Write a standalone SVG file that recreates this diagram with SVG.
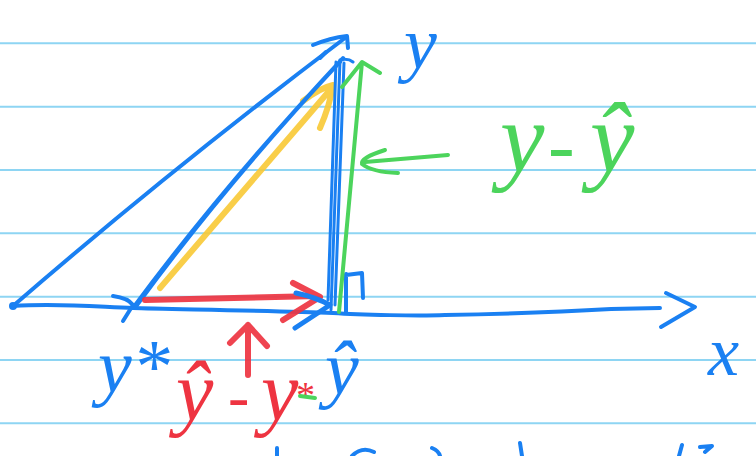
<svg xmlns="http://www.w3.org/2000/svg" width="756" height="456" viewBox="0 0 756 456">
<style>
.rule{stroke:#8ed5f3;stroke-width:2}
.b{fill:none;stroke:#1a80f2;stroke-width:4;stroke-linecap:round;stroke-linejoin:round}
.g{fill:none;stroke:#4cd45c;stroke-width:4;stroke-linecap:round;stroke-linejoin:round}
.yl{fill:none;stroke:#f8c935;stroke-width:6;stroke-linecap:round;stroke-linejoin:round;opacity:.9}
.r{fill:none;stroke:#ee3441;stroke-width:6;stroke-linecap:round;stroke-linejoin:round;opacity:.92}
.t{font-family:"Liberation Serif","DejaVu Serif",serif;font-style:italic}
</style>
<rect width="756" height="456" fill="#ffffff"/>
<g id="paper">
<line class="rule" x1="0" y1="43.3" x2="756" y2="43.3"/>
<line class="rule" x1="0" y1="106.7" x2="756" y2="106.7"/>
<line class="rule" x1="0" y1="170" x2="756" y2="170"/>
<line class="rule" x1="0" y1="233.3" x2="756" y2="233.3"/>
<line class="rule" x1="0" y1="296.7" x2="756" y2="296.7"/>
<line class="rule" x1="0" y1="360" x2="756" y2="360"/>
<line class="rule" x1="0" y1="423.3" x2="756" y2="423.3"/>
</g>
<g id="connectors">
<path class="yl" d="M160,288 L330,90 M303,101 Q320,88 333,85 Q330,105 320,128"/>
<path class="b" d="M13,306 C60,303 100,307 133,308 S280,311 333,313 C360,315 420,316 445,315 C500,314 560,312 611,309 L660,308"/>
<path class="b" d="M666,293 L695,307 L661,327"/>
<circle cx="13" cy="306" r="4" fill="#1a80f2"/>
<path class="b" d="M13,306 Q170,170 345,38"/>
<path class="b" d="M313,45 Q330,38 347,36 L348,48 M320,58 L326,52"/>
<path class="b" d="M133,308 Q220,190 343,58 M137,305 Q225,185 340,62"/>
<path class="b" style="stroke-width:3" d="M340,60 L331,310 M336,62 L328,300 M344,63 L335,305 M340,60 Q348,58 353,62"/>
<path class="b" d="M346,274 L346,313 M346,275 L362,273 L363,298"/>
<path class="b" d="M113,296 Q128,298 133,305 L123,321"/>
<path class="g" d="M339,312 L362,62 M342,87 L362,62 L380,73"/>
<path class="g" d="M448,155 L365,162 M385,150 Q360,158 362,164 Q372,172 398,173"/>
<path class="r" d="M145,300 Q230,298 318,296 M293,283 L320,297 L283,320"/>
<path class="b" style="stroke-width:5" d="M296,293 Q315,297 330,305 L295,328"/>
<path class="r" d="M248,375 L248,325 M230,343 L248,325 L267,346"/>
</g>
<g id="label-y">
<text class="t" x="404" y="68" font-size="74" fill="#1a80f2">y</text>
</g>
<g id="label-x">
<text class="t" x="708" y="375" font-size="70" fill="#1a80f2">x</text>
</g>
<g id="label-y-minus-yhat">
<text class="t" x="500" y="172" font-size="100" fill="#4cd45c">y</text>
<text class="t" x="548" y="172" font-size="80" fill="#4cd45c">-</text>
<text class="t" x="590" y="172" font-size="100" fill="#4cd45c">ŷ</text>
</g>
<g id="label-ystar">
<text class="t" x="98" y="392" font-size="76" fill="#1a80f2">y*</text>
</g>
<g id="label-yhat">
<text class="t" x="325" y="394" font-size="76" fill="#1a80f2">ŷ</text>
</g>
<g id="label-yhat-minus-ystar">
<text class="t" x="176" y="420" font-size="84" fill="#ee3441">ŷ</text>
<text class="t" x="228" y="418" font-size="64" fill="#ee3441">-</text>
<text class="t" x="261" y="420" font-size="84" fill="#ee3441">y<tspan font-size="38" dx="-4" dy="-12">*</tspan></text>
<path class="g" d="M300,396 L315,398"/>
</g>
<g id="cut-off-marks">
<path class="b" d="M277,448 L277,456 M352,456 Q362,446 374,452 M432,448 Q439,451 440,456 M520,443 L522,456 M682,445 L679,456 M700,447 L712,446 L705,452"/>
</g>
</svg>
